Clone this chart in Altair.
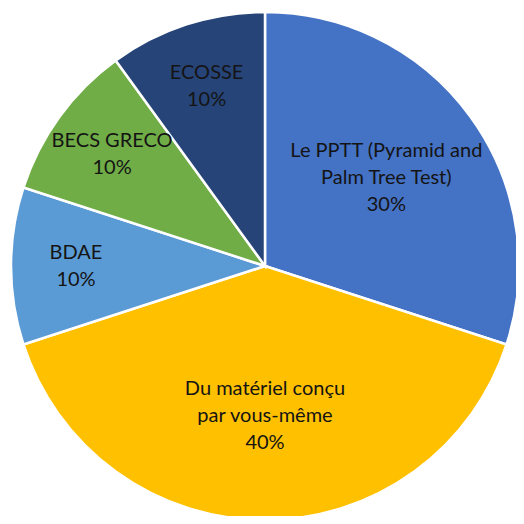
import altair as alt
import pandas as pd

categories = [
    "Le PPTT (Pyramid and Palm Tree Test)",
    "Du matériel conçu par vous-même",
    "BDAE",
    "BECS GRECO",
    "ECOSSE",
]
label_lines = [
    "Le PPTT (Pyramid and\nPalm Tree Test)",
    "Du matériel conçu\npar vous-même",
    "BDAE",
    "BECS GRECO",
    "ECOSSE",
]
values = [30, 40, 10, 10, 10]
colors = ["#4472C4", "#FFC000", "#5B9BD5", "#70AD47", "#264478"]

df = pd.DataFrame({
    "category": categories,
    "lines": label_lines,
    "value": values,
    "idx": list(range(len(categories))),
})

CX, CY, R = 257, 258, 254
LH = 27

pie = alt.Chart(df).mark_arc(
    outerRadius=R, stroke="white", strokeWidth=2.5, x=CX, y=CY
).encode(
    theta=alt.Theta("value:Q", stack=True),
    order=alt.Order("idx:Q"),
    color=alt.Color("category:N", scale=alt.Scale(domain=categories, range=colors), legend=None),
)

text = alt.Chart(df).transform_window(
    cum="sum(value)", sort=[alt.SortField("idx")], frame=[None, 0]
).transform_calculate(
    mid="(datum.cum - datum.value / 2) / 100 * 2 * PI",
    label="datum.lines + '\\n' + datum.value + '%'",
    lr="datum.value >= 30 ? 150 : 189",
).transform_calculate(
    nl="length(split(datum.label, '\\n'))",
    px=f"{CX} + datum.lr * sin(datum.mid)",
).transform_calculate(
    py=f"{CY} - datum.lr * cos(datum.mid) - (datum.nl - 1) * {LH} / 2",
).mark_text(
    font="Lato", fontSize=20, lineBreak="\n", lineHeight=LH,
    align="center", baseline="middle", color="#141414",
).encode(
    x=alt.X("px:Q", scale=None),
    y=alt.Y("py:Q", scale=None),
    text="label:N",
)

chart = (pie + text).properties(
    width=508, height=508, padding=0,
    autosize=alt.AutoSizeParams(type="none"),
).configure_view(stroke=None)

chart.save("out.html", embed_options={"renderer": "svg", "actions": False})
